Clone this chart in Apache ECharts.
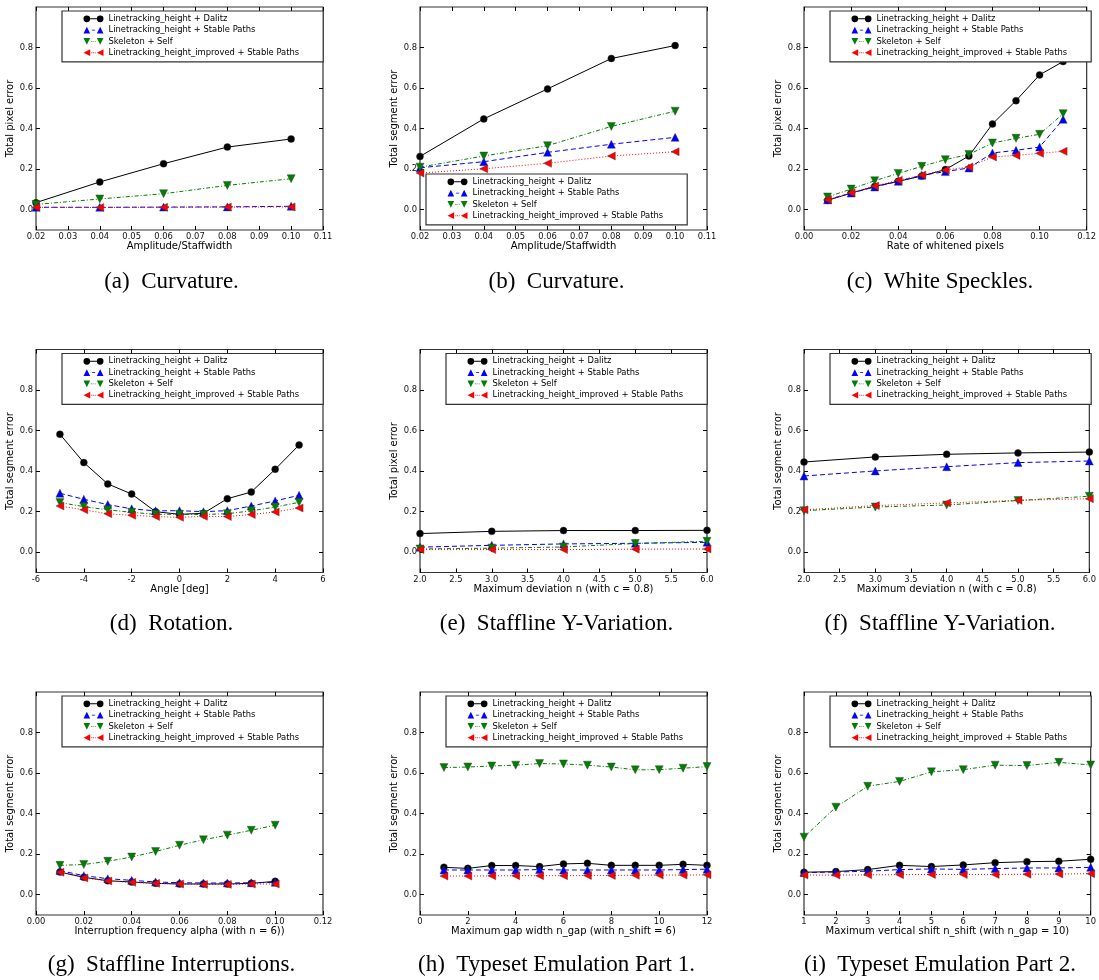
<!DOCTYPE html>
<html><head><meta charset="utf-8">
<script src="https://cdn.jsdelivr.net/npm/echarts@6/dist/echarts.min.js"></script>
<style>html,body{margin:0;padding:0;background:#fff}#c{width:1099px;height:980px}</style>
</head><body><div id="c"></div><script>
// ---------- DATA ----------
const seriesNames = ['Linetracking_height + Dalitz','Linetracking_height + Stable Paths','Skeleton + Self','Linetracking_height_improved + Stable Paths'];
const yTickValues = [0.0, 0.2, 0.4, 0.6, 0.8];

// (a) Curvature, pixel error
const xA = [0.02, 0.04, 0.06, 0.08, 0.10];
const aDalitz   = [0.035, 0.137, 0.227, 0.309, 0.349];
const aStable   = [0.012, 0.012, 0.013, 0.014, 0.017];
const aSelf     = [0.026, 0.053, 0.079, 0.120, 0.153];
const aImproved = [0.012, 0.011, 0.012, 0.013, 0.014];

// (b) Curvature, segment error
const xB = [0.02, 0.04, 0.06, 0.08, 0.10];
const bDalitz   = [0.263, 0.448, 0.596, 0.746, 0.810];
const bStable   = [0.207, 0.237, 0.283, 0.323, 0.357];
const bSelf     = [0.210, 0.265, 0.316, 0.411, 0.486];
const bImproved = [0.181, 0.202, 0.229, 0.265, 0.286];

// (c) White speckles, pixel error
const xC = [0.01, 0.02, 0.03, 0.04, 0.05, 0.06, 0.07, 0.08, 0.09, 0.10, 0.11];
const cDalitz   = [0.046, 0.082, 0.115, 0.140, 0.166, 0.198, 0.265, 0.423, 0.538, 0.665, 0.731];
const cStable   = [0.049, 0.082, 0.112, 0.140, 0.170, 0.188, 0.206, 0.280, 0.293, 0.309, 0.446];
const cSelf     = [0.063, 0.102, 0.143, 0.179, 0.214, 0.247, 0.273, 0.329, 0.352, 0.372, 0.474];
const cImproved = [0.049, 0.084, 0.117, 0.145, 0.171, 0.196, 0.211, 0.260, 0.268, 0.278, 0.288];

// (d) Rotation, segment error
const xD = [-5, -4, -3, -2, -1, 0, 1, 2, 3, 4, 5];
const dDalitz   = [0.582, 0.442, 0.337, 0.287, 0.200, 0.187, 0.192, 0.264, 0.297, 0.409, 0.529];
const dStable   = [0.291, 0.261, 0.235, 0.214, 0.204, 0.205, 0.200, 0.205, 0.228, 0.253, 0.281];
const dSelf     = [0.245, 0.225, 0.209, 0.197, 0.187, 0.187, 0.186, 0.190, 0.204, 0.223, 0.246];
const dImproved = [0.228, 0.209, 0.190, 0.182, 0.176, 0.172, 0.177, 0.176, 0.186, 0.199, 0.218];

// (e) Staffline Y-variation, pixel error
const xE = [2, 3, 4, 5, 6];
const eDalitz   = [0.092, 0.103, 0.107, 0.107, 0.108];
const eStable   = [0.025, 0.034, 0.041, 0.044, 0.049];
const eSelf     = [0.016, 0.020, 0.026, 0.043, 0.054];
const eImproved = [0.013, 0.013, 0.013, 0.015, 0.016];

// (f) Staffline Y-variation, segment error
const xF = [2, 3, 4, 5, 6];
const fDalitz   = [0.445, 0.470, 0.483, 0.490, 0.494];
const fStable   = [0.376, 0.401, 0.422, 0.442, 0.450];
const fSelf     = [0.205, 0.223, 0.233, 0.255, 0.276];
const fImproved = [0.209, 0.230, 0.243, 0.256, 0.264];

// (g) Staffline interruptions, segment error
const xG = [0.01, 0.02, 0.03, 0.04, 0.05, 0.06, 0.07, 0.08, 0.09, 0.10];
const gDalitz   = [0.112, 0.086, 0.069, 0.063, 0.056, 0.053, 0.053, 0.053, 0.056, 0.066];
const gStable   = [0.119, 0.094, 0.079, 0.071, 0.063, 0.059, 0.058, 0.058, 0.059, 0.061];
const gSelf     = [0.145, 0.149, 0.165, 0.186, 0.213, 0.244, 0.271, 0.294, 0.318, 0.343];
const gImproved = [0.111, 0.083, 0.068, 0.061, 0.056, 0.053, 0.051, 0.051, 0.053, 0.053];

// (h) Typeset emulation part 1, segment error
const xH = [1, 2, 3, 4, 5, 6, 7, 8, 9, 10, 11, 12];
const hDalitz   = [0.135, 0.130, 0.144, 0.144, 0.139, 0.152, 0.155, 0.145, 0.145, 0.145, 0.150, 0.145];
const hStable   = [0.122, 0.122, 0.122, 0.122, 0.124, 0.122, 0.122, 0.122, 0.122, 0.122, 0.124, 0.126];
const hSelf     = [0.627, 0.630, 0.635, 0.639, 0.647, 0.645, 0.639, 0.630, 0.616, 0.617, 0.624, 0.632];
const hImproved = [0.092, 0.092, 0.093, 0.094, 0.094, 0.094, 0.095, 0.095, 0.096, 0.097, 0.097, 0.098];

// (i) Typeset emulation part 2, segment error
const xI = [1, 2, 3, 4, 5, 6, 7, 8, 9, 10];
const iDalitz   = [0.111, 0.114, 0.124, 0.145, 0.139, 0.147, 0.158, 0.163, 0.165, 0.175];
const iStable   = [0.109, 0.112, 0.116, 0.124, 0.127, 0.125, 0.129, 0.132, 0.132, 0.135];
const iSelf     = [0.284, 0.432, 0.535, 0.559, 0.606, 0.617, 0.639, 0.637, 0.653, 0.640];
const iImproved = [0.097, 0.097, 0.098, 0.099, 0.100, 0.100, 0.100, 0.101, 0.102, 0.104];

// ---------- PANELS ----------
const panels = [
  {x:xA, ys:[aDalitz,aStable,aSelf,aImproved], xMin:0.02, xMax:0.11, xInt:0.01, dec:2, xName:'Amplitude/Staffwidth', yName:'Total pixel error', cap:'(a)\u2002Curvature.', leg:'top'},
  {x:xB, ys:[bDalitz,bStable,bSelf,bImproved], xMin:0.02, xMax:0.11, xInt:0.01, dec:2, xName:'Amplitude/Staffwidth', yName:'Total segment error', cap:'(b)\u2002Curvature.', leg:'bottom'},
  {x:xC, ys:[cDalitz,cStable,cSelf,cImproved], xMin:0, xMax:0.12, xInt:0.02, dec:2, xName:'Rate of whitened pixels', yName:'Total pixel error', cap:'(c)\u2002White Speckles.', leg:'top'},
  {x:xD, ys:[dDalitz,dStable,dSelf,dImproved], xMin:-6, xMax:6, xInt:2, dec:0, xName:'Angle [deg]', yName:'Total segment error', cap:'(d)\u2002Rotation.', leg:'top'},
  {x:xE, ys:[eDalitz,eStable,eSelf,eImproved], xMin:2, xMax:6, xInt:0.5, dec:1, xName:'Maximum deviation n (with c = 0.8)', yName:'Total pixel error', cap:'(e)\u2002Staffline Y-Variation.', leg:'top'},
  {x:xF, ys:[fDalitz,fStable,fSelf,fImproved], xMin:2, xMax:6, xInt:0.5, dec:1, xName:'Maximum deviation n (with c = 0.8)', yName:'Total segment error', cap:'(f)\u2002Staffline Y-Variation.', leg:'top'},
  {x:xG, ys:[gDalitz,gStable,gSelf,gImproved], xMin:0, xMax:0.12, xInt:0.02, dec:2, xName:'Interruption frequency alpha (with n = 6))', yName:'Total segment error', cap:'(g)\u2002Staffline Interruptions.', leg:'top'},
  {x:xH, ys:[hDalitz,hStable,hSelf,hImproved], xMin:0, xMax:12, xInt:2, dec:0, xName:'Maximum gap width n_gap (with n_shift = 6)', yName:'Total segment error', cap:'(h)\u2002Typeset Emulation Part 1.', leg:'top'},
  {x:xI, ys:[iDalitz,iStable,iSelf,iImproved], xMin:1, xMax:10, xInt:1, dec:0, xName:'Maximum vertical shift n_shift (with n_gap = 10)', yName:'Total segment error', cap:'(i)\u2002Typeset Emulation Part 2.', leg:'top'}
];

// ---------- LAYOUT / STYLE ----------
const colLeft = [36, 420, 804], rowTop = [7, 349.5, 692], gw = 287, gh = 223;
const capX = [171.5, 556.5, 940], capTop = [270, 612, 953];
const SANS = 'DejaVu Sans';
const styles = [
  {color:'#000000', symbol:'circle',   size:7, rotate:0,   line:'solid',
   icon:'path://M0,10A10,10,0,1,1,20,10A10,10,0,1,1,0,10ZM40,10A10,10,0,1,1,60,10A10,10,0,1,1,40,10ZM20,8.6H40V11.4H20Z'},
  {color:'#0000ff', symbol:'triangle', size:8, rotate:0,   line:[5,3],
   icon:'path://M0,20L10,0L20,20ZM40,20L50,0L60,20ZM25,8.6H35V11.4H25Z'},
  {color:'#007f00', symbol:'triangle', size:8, rotate:180, line:[4,2,1,2],
   icon:'path://M0,0L20,0L10,20ZM40,0L60,0L50,20ZM23,8.6H27V11.4H23ZM30,8.6H32V11.4H30ZM35,8.6H37V11.4H35Z'},
  {color:'#ff0000', symbol:'triangle', size:8, rotate:90,  line:[1,2],
   icon:'path://M0,10L20,0L20,20ZM40,10L60,0L60,20ZM24,8.6H26.5V11.4H24ZM29,8.6H31.5V11.4H29ZM34,8.6H36.5V11.4H34Z'}
];

const option = {animation:false, backgroundColor:'#fff', grid:[], xAxis:[], yAxis:[], series:[], legend:[], title:[]};

panels.forEach((p, i) => {
  const col = i % 3, row = Math.floor(i / 3);
  const L = colLeft[col], T = rowTop[row];
  option.grid.push({left:L, top:T, width:gw, height:gh, show:true, borderColor:'#333', borderWidth:1.2, backgroundColor:'transparent', containLabel:false});
  const tick = {show:true, inside:true, length:4, lineStyle:{color:'#000', width:1}};
  const noLine = {show:false, onZero:false};
  option.xAxis.push({type:'value', gridIndex:i, position:'bottom', min:p.xMin, max:p.xMax, interval:p.xInt,
    axisLine:noLine, axisTick:tick, splitLine:{show:false},
    axisLabel:{fontSize:8.4, fontFamily:SANS, color:'#111', margin:3, formatter:v => v.toFixed(p.dec)},
    name:p.xName, nameLocation:'middle', nameGap:10, nameTextStyle:{fontSize:10, fontFamily:SANS, color:'#000'}});
  option.xAxis.push({type:'value', gridIndex:i, position:'top', min:p.xMin, max:p.xMax, interval:p.xInt,
    axisLine:noLine, axisTick:tick, splitLine:{show:false}, axisLabel:{show:false}});
  option.yAxis.push({type:'value', gridIndex:i, position:'left', min:-0.1, max:1.0, interval:0.1,
    axisLine:noLine, axisTick:Object.assign({customValues:yTickValues}, tick), splitLine:{show:false},
    axisLabel:{customValues:yTickValues, fontSize:8.4, fontFamily:SANS, color:'#111', margin:3, formatter:v => v.toFixed(1)},
    name:p.yName, nameLocation:'middle', nameGap:13, nameTextStyle:{fontSize:10, fontFamily:SANS, color:'#000'}});
  option.yAxis.push({type:'value', gridIndex:i, position:'right', min:-0.1, max:1.0, interval:0.1,
    axisLine:noLine, axisTick:Object.assign({customValues:yTickValues}, tick), splitLine:{show:false}, axisLabel:{show:false}});

  p.ys.forEach((ys, k) => {
    const s = styles[k];
    option.series.push({type:'line', name:seriesNames[k], xAxisIndex:2*i, yAxisIndex:2*i,
      data:p.x.map((xv, j) => [xv, ys[j]]),
      symbol:s.symbol, symbolSize:s.size, symbolRotate:s.rotate, showSymbol:true,
      lineStyle:{color:s.color, width:1, type:s.line},
      itemStyle:{color:s.color, borderColor:'#333', borderWidth:0.4},
      emphasis:{disabled:true}, z:2});
  });

  const legTop = p.leg === 'top' ? T + 4 : T + 167;
  const legLeft = p.leg === 'top' ? L + 26 : L + 6;
  option.legend.push({show:true, orient:'vertical', left:legLeft, top:legTop,
    data:seriesNames.map((n, k) => ({name:n, icon:styles[k].icon})),
    itemWidth:20, itemHeight:6.67, itemGap:0.3, itemTextGap:3.5, selectedMode:false,
    padding:[2.3, 24, 3.7, 21.5], backgroundColor:'#fff', borderColor:'#333', borderWidth:1.2,
    itemStyle:{borderWidth:0},
    textStyle:{fontSize:8.4, fontFamily:SANS, color:'#000', lineHeight:11}});

  option.title.push({text:p.cap, left:capX[col], top:capTop[row], textAlign:'center', padding:0,
    textStyle:{fontFamily:'Liberation Serif', fontWeight:'normal', fontSize:23, color:'#000'}});
});

const chart = echarts.init(document.getElementById('c'), null, {renderer:'canvas'});
chart.setOption(option);
</script></body></html>
